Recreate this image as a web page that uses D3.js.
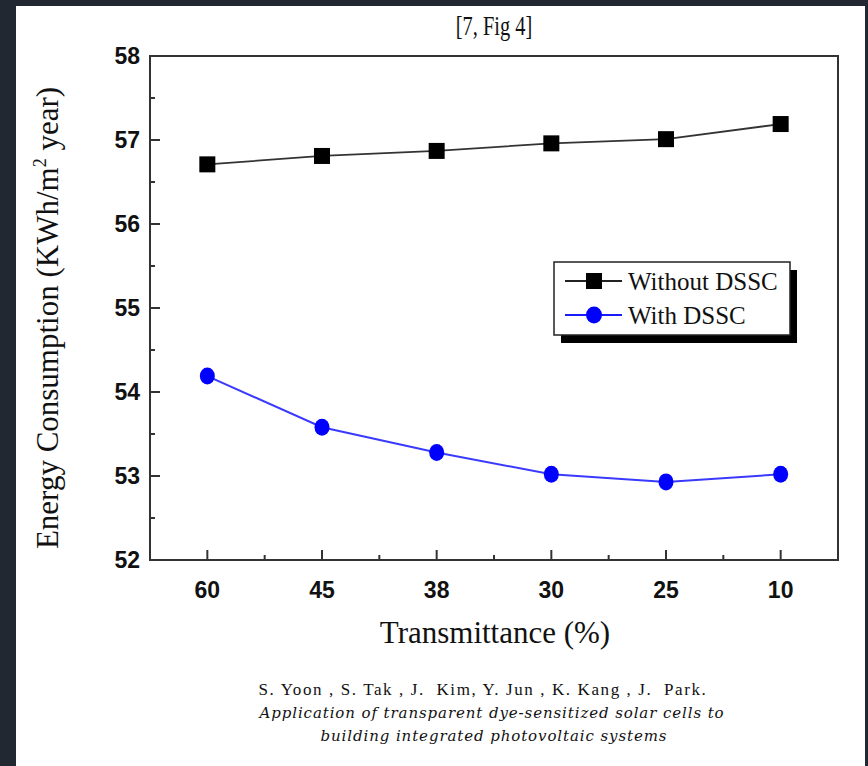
<!DOCTYPE html>
<html><head><meta charset="utf-8">
<script src="https://cdn.jsdelivr.net/npm/d3@7"></script>
<style>
html,body{margin:0;padding:0;background:#222831;}
svg{display:block;}
</style></head>
<body>
<svg id="c" width="868" height="766"></svg>
<script>
const categories = ["60","45","38","30","25","10"];
const withoutDSSC = [56.71, 56.81, 56.87, 56.96, 57.01, 57.19];
const withDSSC = [54.19, 53.58, 53.28, 53.02, 52.93, 53.02];
const yTicks = [52,53,54,55,56,57,58];
const seriesNames = ["Without DSSC","With DSSC"];

const svg = d3.select("#c");
svg.append("rect").attr("x",0).attr("y",0).attr("width",868).attr("height",766).attr("fill","#222831");
svg.append("rect").attr("x",16).attr("y",6).attr("width",849).attr("height",760).attr("fill","#ffffff");

const L=150, R=838, T=56, B=560;
const x = d3.scalePoint().domain(categories).range([L,R]).padding(0.5);
const y = d3.scaleLinear().domain([52,58]).range([B,T]);

svg.append("rect").attr("x",L).attr("y",T).attr("width",R-L).attr("height",B-T)
  .attr("fill","none").attr("stroke","#333").attr("stroke-width",2);

const yMinor = d3.range(52.5,58,1);
const ya = svg.append("g");
ya.selectAll("line.maj").data(yTicks.slice(1,-1)).join("line")
  .attr("x1",L).attr("x2",L+10).attr("y1",d=>y(d)).attr("y2",d=>y(d)).attr("stroke","#333").attr("stroke-width",2);
ya.selectAll("line.min").data(yMinor).join("line").attr("class","min")
  .attr("x1",L).attr("x2",L+5).attr("y1",d=>y(d)).attr("y2",d=>y(d)).attr("stroke","#333").attr("stroke-width",2);
ya.selectAll("text").data(yTicks).join("text")
  .attr("x",L-10).attr("y",d=>y(d)).attr("dy","0.36em").attr("text-anchor","end")
  .attr("font-family","Liberation Sans, Arial, sans-serif").attr("font-weight","bold").attr("font-size",23)
  .attr("fill","#111").text(d=>d);

const xa = svg.append("g");
const step = x.step();
xa.selectAll("line.maj").data(categories).join("line")
  .attr("x1",d=>x(d)).attr("x2",d=>x(d)).attr("y1",B).attr("y2",B-10).attr("stroke","#333").attr("stroke-width",2);
xa.selectAll("line.min").data(categories.slice(0,-1)).join("line").attr("class","min")
  .attr("x1",d=>x(d)+step/2).attr("x2",d=>x(d)+step/2).attr("y1",B).attr("y2",B-5).attr("stroke","#333").attr("stroke-width",2);
xa.selectAll("text").data(categories).join("text")
  .attr("x",d=>x(d)).attr("y",B+38).attr("text-anchor","middle")
  .attr("font-family","Liberation Sans, Arial, sans-serif").attr("font-weight","bold").attr("font-size",23)
  .attr("fill","#111").text(d=>d);

svg.append("text").attr("x",494).attr("y",32).attr("text-anchor","middle")
  .attr("font-family","Liberation Serif, Times New Roman, serif").attr("font-size",24)
  .attr("transform","translate(494,0) scale(0.85,1.1) translate(-494,0)")
  .attr("fill","#111").text("[7, Fig 4]");
svg.append("text").attr("x",495).attr("y",643).attr("text-anchor","middle")
  .attr("font-family","Liberation Serif, Times New Roman, serif").attr("font-size",31)
  .attr("transform","translate(0,643) scale(1,1.05) translate(0,-643)")
  .attr("fill","#111").text("Transmittance (%)");
const yl = svg.append("text").attr("transform","translate(58,318) rotate(-90)").attr("text-anchor","middle")
  .attr("font-family","Liberation Serif, Times New Roman, serif").attr("font-size",31).attr("fill","#111");
yl.append("tspan").text("Energy Consumption (KWh/m");
yl.append("tspan").attr("dy",-12).attr("font-size",18).text("2");
yl.append("tspan").attr("dy",12).text(" year)");

const line = d3.line().x((d,i)=>x(categories[i])).y(d=>y(d));
svg.append("path").datum(withoutDSSC).attr("d",line).attr("fill","none").attr("stroke","#333").attr("stroke-width",1.8);
svg.append("path").datum(withDSSC).attr("d",line).attr("fill","none").attr("stroke","#3a3aff").attr("stroke-width",2);
svg.selectAll("rect.sq").data(withoutDSSC).join("rect").attr("class","sq")
  .attr("x",(d,i)=>x(categories[i])-8).attr("y",d=>y(d)-8).attr("width",16).attr("height",16).attr("fill","#000");
svg.selectAll("ellipse.ci").data(withDSSC).join("ellipse").attr("class","ci")
  .attr("cx",(d,i)=>x(categories[i])).attr("cy",d=>y(d)).attr("rx",7.5).attr("ry",8.5).attr("fill","#0000ff");

const lg = svg.append("g");
lg.append("rect").attr("x",561).attr("y",270).attr("width",236).attr("height",73).attr("fill","#000");
lg.append("rect").attr("x",554).attr("y",262).attr("width",236).attr("height",73).attr("fill","#fff").attr("stroke","#222").attr("stroke-width",1.5);
const ly = [281,315];
lg.append("line").attr("x1",565).attr("x2",622).attr("y1",ly[0]).attr("y2",ly[0]).attr("stroke","#222").attr("stroke-width",2);
lg.append("rect").attr("x",586).attr("y",ly[0]-8).attr("width",16).attr("height",16).attr("fill","#000");
lg.append("line").attr("x1",565).attr("x2",622).attr("y1",ly[1]).attr("y2",ly[1]).attr("stroke","#1a1aff").attr("stroke-width",2);
lg.append("ellipse").attr("cx",594).attr("cy",ly[1]).attr("rx",8).attr("ry",8.5).attr("fill","#0000ff");
lg.selectAll("text").data(seriesNames).join("text")
  .attr("x",628).attr("y",(d,i)=>ly[i]).attr("dy","0.35em")
  .attr("font-family","Liberation Serif, Times New Roman, serif").attr("font-size",25).attr("fill","#111").text(d=>d);

svg.append("text").attr("x",483).attr("y",695).attr("text-anchor","middle")
  .attr("font-family","Liberation Serif, Times New Roman, serif").attr("font-size",17).attr("fill","#111")
  .attr("letter-spacing",1.6).attr("xml:space","preserve")
  .text("S. Yoon , S. Tak , J.  Kim, Y. Jun , K. Kang , J.  Park.");
svg.append("text").attr("x",492).attr("y",718).attr("text-anchor","middle")
  .attr("font-family","DejaVu Serif, serif").attr("font-style","italic").attr("font-size",15).attr("fill","#111")
  .attr("letter-spacing",0.9)
  .text("Application of transparent dye-sensitized solar cells to");
svg.append("text").attr("x",494).attr("y",741).attr("text-anchor","middle")
  .attr("font-family","DejaVu Serif, serif").attr("font-style","italic").attr("font-size",15).attr("fill","#111")
  .attr("letter-spacing",0.9)
  .text("building integrated photovoltaic systems");
</script>
</body></html>
